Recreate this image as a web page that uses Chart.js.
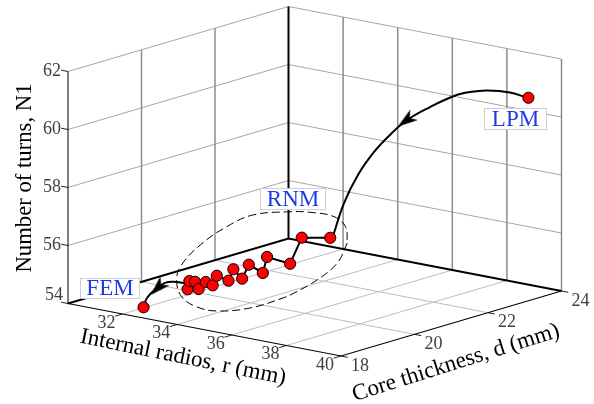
<!DOCTYPE html>
<html>
<head>
<meta charset="utf-8">
<title>Number of turns</title>
<script src="https://cdn.jsdelivr.net/npm/chart.js@4"></script>
<style>
    html, body { margin: 0; padding: 0; background: #fff; }
    canvas { display: block; }
</style>
</head>
<body>
<canvas id="chart" width="594" height="404"></canvas>
<script>
// tick values
const rTicks = [30, 32, 34, 36, 38, 40];
const dTicks = [18, 20, 22, 24];
const nTicks = [54, 56, 58, 60, 62];

// design points: FEM, RNM iterations, LPM
const radius = [31.96, 31.58, 31.00, 31.18, 31.81, 31.44, 31.84, 31.21, 31.84, 31.09, 31.99, 31.09, 32.02, 30.91, 31.93, 32.41, 33.05, 40.00];
const core = [18.60, 20.08, 20.56, 20.58, 20.21, 20.68, 20.57, 21.15, 21.00, 21.69, 21.26, 22.11, 21.80, 22.74, 22.61, 22.57, 22.87, 23.10];
const turns = [54, 54, 54, 54, 54, 54, 54, 54, 54, 54, 54, 54, 54, 54, 54, 55, 55, 61];

// curved arrow from LPM down to RNM (at d = 23)
const lpmArcR = [40.13, 39.46, 38.62, 37.99, 37.41, 36.53, 35.69, 35.06, 34.48, 33.89, 33.38, 32.96];
const lpmArcN = [61.05, 61.12, 61.04, 60.87, 60.63, 60.09, 59.49, 58.86, 58.17, 57.27, 56.21, 54.94];

// curved arrow from RNM down to FEM (at d = 20)
const femArcR = [30.08, 30.20, 30.56, 30.86, 31.16, 31.67];
const femArcN = [53.14, 53.48, 53.89, 54.12, 54.21, 54.24];

// dashed ring around the RNM points, on the floor
const ringR = [31.64, 32.92, 33.75, 34.22, 34.35, 34.37, 33.86, 33.09, 32.01, 30.64, 29.62, 28.53, 27.74, 27.44, 28.02, 28.52, 29.37, 30.38, 31.64];
const ringD = [24.38, 23.16, 21.99, 21.02, 20.62, 19.70, 19.18, 19.20, 19.60, 20.48, 21.37, 22.69, 24.00, 24.93, 25.51, 25.70, 25.71, 25.27, 24.38];

// view of the box
function project(r, d, n) {
    return {
        x: 68 + (r - 30) * 27.3 + (d - 18) * 36.75,
        y: 303.5 + (r - 30) * 5.25 - (d - 18) * 10.83 - (n - 54) * 29
    };
}

// arrow head as image, pointing up
function makeArrowHead(w, h) {
    const c = document.createElement('canvas');
    c.width = w;
    c.height = h;
    const g = c.getContext('2d');
    g.fillStyle = '#000';
    g.beginPath();
    g.moveTo(w / 2, 0);
    g.lineTo(w, h);
    g.lineTo(w / 2, h * 0.72);
    g.lineTo(0, h);
    g.closePath();
    g.fill();
    return c;
}

const datasets = [];

function addLine(points, color, width, dash, tension) {
    datasets.push({
        data: points,
        showLine: true,
        borderColor: color,
        borderWidth: width,
        borderDash: dash || [],
        tension: tension || 0,
        pointRadius: 0,
        clip: false
    });
}

// first dataset is drawn on top: markers first
datasets.push({
    data: radius.map((r, i) => project(r, core[i], turns[i])),
    showLine: false,
    pointRadius: 5.6,
    pointBackgroundColor: '#ff0000',
    pointBorderColor: '#000',
    pointBorderWidth: 1,
    clip: false
});

const arrowHead = makeArrowHead(13, 20);
datasets.push({
    data: [project(35.65, 23, 59.46), project(30.6, 20, 53.9)],
    showLine: false,
    pointStyle: arrowHead,
    pointRotation: [234, 225],
    clip: false
});

// link between the RNM iterations, without the last leg up to LPM
addLine(radius.slice(1, 17).map((r, i) => project(r, core[i + 1], turns[i + 1])), '#000', 2);
addLine(lpmArcR.map((r, i) => project(r, 23, lpmArcN[i])), '#000', 2, null, 0.4);
addLine(femArcR.map((r, i) => project(r, 20, femArcN[i])), '#000', 2, null, 0.4);
addLine(ringR.map((r, i) => project(r, ringD[i], 54)), '#000', 1, [8, 4], 0.4);

// box edges
addLine([project(30, 18, 54), project(30, 24, 54), project(40, 24, 54)], '#000', 2);
addLine([project(30, 24, 54), project(30, 24, 62)], '#000', 2);
addLine([project(30, 18, 54), project(30, 18, 62)], '#000', 1);
addLine([project(30, 18, 54), project(40, 18, 54), project(40, 24, 54)], '#000', 1.2);

// tick marks
rTicks.slice(1).forEach(r => addLine([project(r, 18, 54), project(r, 17.8, 54)], '#222', 1));
dTicks.forEach(d => addLine([project(40, d, 54), project(40.25, d, 54)], '#222', 1));
nTicks.forEach(n => addLine([project(30, 18, n), project(29.75, 18, n)], '#222', 1));

// wall and floor grid
dTicks.slice(1, 3).forEach(d => addLine([project(30, d, 54), project(30, d, 62)], '#8c8c8c', 1.5));
rTicks.slice(1).forEach(r => addLine([project(r, 24, 54), project(r, 24, 62)], '#8c8c8c', 1.5));
nTicks.slice(1).forEach(n => {
    addLine([project(30, 18, n), project(30, 24, n), project(40, 24, n)], '#a6a6a6', 1);
});
rTicks.slice(1, 5).forEach(r => addLine([project(r, 18, 54), project(r, 24, 54)], '#bdbdbd', 1));
dTicks.slice(1, 3).forEach(d => addLine([project(30, d, 54), project(40, d, 54)], '#bdbdbd', 1));

function drawText(ctx, text, x, y, font, color, angle) {
    ctx.save();
    ctx.translate(x, y);
    ctx.rotate((angle || 0) * Math.PI / 180);
    ctx.font = font;
    ctx.fillStyle = color;
    ctx.textAlign = 'center';
    ctx.textBaseline = 'middle';
    ctx.fillText(text, 0, 0);
    ctx.restore();
}

function drawTag(ctx, text, x, y, w, h) {
    ctx.fillStyle = '#fff';
    ctx.fillRect(x, y, w, h);
    ctx.strokeStyle = '#cfcfcf';
    ctx.lineWidth = 1;
    ctx.strokeRect(x + 0.5, y + 0.5, w - 1, h - 1);
    drawText(ctx, text, x + w / 2, y + h / 2 + 0.5, '23px "Liberation Serif"', '#1a3ce8');
}

const labelsPlugin = {
    id: 'labels',
    afterDraw(chart) {
        const ctx = chart.ctx;
        const tickFont = '18px "Liberation Serif"';
        const tickColor = '#404040';
        const titleFont = '23px "Liberation Serif"';

        nTicks.forEach(n => {
            const p = project(30, 18, n);
            drawText(ctx, String(n), n === 54 ? p.x - 14 : p.x - 16, n === 54 ? p.y - 8 : p.y, tickFont, tickColor);
        });
        rTicks.slice(1).forEach(r => {
            const p = project(r, 18, 54);
            drawText(ctx, String(r), p.x - 16, p.y + 9, tickFont, tickColor);
        });
        dTicks.forEach(d => {
            const p = project(40, d, 54);
            drawText(ctx, String(d), p.x + 19, p.y + 10, tickFont, tickColor);
        });

        drawText(ctx, 'Number of turns, N1', 25, 178, '22.7px "Liberation Serif"', '#000', -90);
        drawText(ctx, 'Internal radios, r (mm)', 183, 357.5, titleFont, '#000', 11.5);
        drawText(ctx, 'Core thickness, d (mm)', 456, 363, titleFont, '#000', -17.5);

        drawTag(ctx, 'RNM', 260, 188, 66, 22);
        drawTag(ctx, 'LPM', 484, 108, 63, 22);
        drawTag(ctx, 'FEM', 80, 278, 60, 21);
    }
};

new Chart(document.getElementById('chart').getContext('2d'), {
    type: 'scatter',
    data: { datasets: datasets },
    options: {
        responsive: false,
        animation: false,
        layout: { padding: 0, autoPadding: false },
        plugins: { legend: { display: false }, tooltip: { enabled: false } },
        scales: {
            x: { type: 'linear', min: 0, max: 594, display: false },
            y: { type: 'linear', min: 0, max: 404, reverse: true, display: false }
        }
    },
    plugins: [labelsPlugin]
});
</script>
</body>
</html>
